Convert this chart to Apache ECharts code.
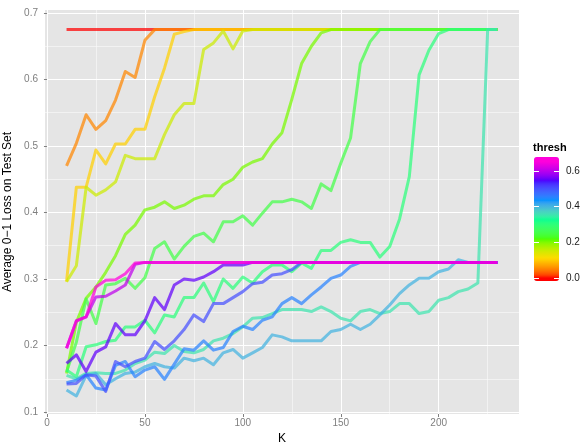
<!DOCTYPE html>
<html><head><meta charset="utf-8">
<script src="https://cdn.jsdelivr.net/npm/echarts@6/dist/echarts.min.js"></script>
<style>html,body{margin:0;padding:0;background:#fff}#c{width:582px;height:443px}</style>
</head><body><div id="c"></div>
<script>
// ---- data ----
const K = [10,15,20,25,30,35,40,45,50,55,60,65,70,75,80,85,90,95,100,105,110,115,120,125,130,135,140,145,150,155,160,165,170,175,180,185,190,195,200,205,210,215,220,225,230];
const thresh = [0,0.05,0.1,0.15,0.2,0.25,0.3,0.35,0.4,0.45,0.5,0.55,0.6,0.65];

const loss_t000 = [0.675,0.675,0.675,0.675,0.675,0.675,0.675,0.675,0.675,0.675,0.675,0.675,0.675,0.675,0.675,0.675,0.675,0.675,0.675,0.675,0.675,0.675,0.675,0.675,0.675,0.675,0.675,0.675,0.675,0.675,0.675,0.675,0.675,0.675,0.675,0.675,0.675,0.675,0.675,0.675,0.675,0.675,0.675,0.675,0.675];
const loss_t005 = [0.470,0.504,0.547,0.525,0.538,0.569,0.612,0.603,0.659,0.675,0.675,0.675,0.675,0.675,0.675,0.675,0.675,0.675,0.675,0.675,0.675,0.675,0.675,0.675,0.675,0.675,0.675,0.675,0.675,0.675,0.675,0.675,0.675,0.675,0.675,0.675,0.675,0.675,0.675,0.675,0.675,0.675,0.675,0.675,0.675];
const loss_t010 = [0.296,0.438,0.438,0.494,0.473,0.503,0.503,0.525,0.525,0.574,0.617,0.668,0.672,0.675,0.675,0.675,0.675,0.675,0.675,0.675,0.675,0.675,0.675,0.675,0.675,0.675,0.675,0.675,0.675,0.675,0.675,0.675,0.675,0.675,0.675,0.675,0.675,0.675,0.675,0.675,0.675,0.675,0.675,0.675,0.675];
const loss_t015 = [0.296,0.320,0.438,0.426,0.434,0.446,0.486,0.481,0.481,0.481,0.517,0.547,0.564,0.564,0.645,0.655,0.673,0.646,0.673,0.675,0.675,0.675,0.675,0.675,0.675,0.675,0.675,0.675,0.675,0.675,0.675,0.675,0.675,0.675,0.675,0.675,0.675,0.675,0.675,0.675,0.675,0.675,0.675,0.675,0.675];
const loss_t020 = [0.158,0.235,0.271,0.288,0.310,0.335,0.367,0.381,0.404,0.408,0.416,0.406,0.411,0.420,0.425,0.425,0.442,0.450,0.468,0.476,0.481,0.503,0.520,0.570,0.624,0.650,0.670,0.675,0.675,0.675,0.675,0.675,0.675,0.675,0.675,0.675,0.675,0.675,0.675,0.675,0.675,0.675,0.675,0.675,0.675];
const loss_t025 = [0.160,0.205,0.270,0.233,0.291,0.293,0.301,0.286,0.302,0.346,0.356,0.330,0.349,0.364,0.369,0.356,0.386,0.386,0.395,0.381,0.399,0.416,0.416,0.420,0.416,0.406,0.443,0.433,0.474,0.512,0.624,0.657,0.675,0.675,0.675,0.675,0.675,0.675,0.675,0.675,0.675,0.675,0.675,0.675,0.675];
const loss_t030 = [0.163,0.153,0.198,0.201,0.206,0.208,0.228,0.228,0.238,0.219,0.246,0.243,0.272,0.272,0.294,0.266,0.300,0.286,0.303,0.294,0.311,0.321,0.321,0.311,0.324,0.316,0.343,0.343,0.355,0.359,0.355,0.355,0.333,0.349,0.390,0.454,0.607,0.644,0.669,0.675,0.675,0.675,0.675,0.675,0.675];
const loss_t035 = [0.155,0.150,0.158,0.159,0.158,0.158,0.163,0.173,0.178,0.190,0.188,0.200,0.191,0.189,0.194,0.207,0.211,0.218,0.228,0.241,0.242,0.248,0.254,0.254,0.254,0.251,0.258,0.251,0.241,0.237,0.251,0.254,0.248,0.251,0.263,0.263,0.248,0.251,0.268,0.272,0.281,0.285,0.294,0.675,0.675];
const loss_t040 = [0.133,0.124,0.155,0.158,0.141,0.150,0.158,0.160,0.168,0.173,0.168,0.166,0.181,0.177,0.181,0.171,0.189,0.194,0.181,0.189,0.197,0.216,0.213,0.207,0.207,0.207,0.207,0.221,0.224,0.232,0.224,0.232,0.246,0.261,0.278,0.291,0.301,0.301,0.311,0.315,0.329,0.325,0.325,0.325,0.325];
const loss_t045 = [0.144,0.148,0.156,0.136,0.133,0.170,0.176,0.153,0.163,0.168,0.149,0.172,0.195,0.193,0.207,0.193,0.197,0.221,0.229,0.224,0.238,0.243,0.263,0.272,0.263,0.276,0.288,0.301,0.306,0.319,0.325,0.325,0.325,0.325,0.325,0.325,0.325,0.325,0.325,0.325,0.325,0.325,0.325,0.325,0.325];
const loss_t050 = [0.142,0.143,0.156,0.154,0.131,0.176,0.168,0.176,0.181,0.206,0.194,0.207,0.224,0.246,0.236,0.263,0.263,0.272,0.281,0.293,0.295,0.306,0.308,0.314,0.325,0.325,0.325,0.325,0.325,0.325,0.325,0.325,0.325,0.325,0.325,0.325,0.325,0.325,0.325,0.325,0.325,0.325,0.325,0.325,0.325];
const loss_t055 = [0.173,0.186,0.161,0.190,0.198,0.233,0.216,0.216,0.237,0.272,0.254,0.291,0.300,0.298,0.303,0.311,0.321,0.321,0.321,0.325,0.325,0.325,0.325,0.325,0.325,0.325,0.325,0.325,0.325,0.325,0.325,0.325,0.325,0.325,0.325,0.325,0.325,0.325,0.325,0.325,0.325,0.325,0.325,0.325,0.325];
const loss_t060 = [0.196,0.237,0.243,0.273,0.274,0.282,0.291,0.322,0.325,0.325,0.325,0.325,0.325,0.325,0.325,0.325,0.325,0.325,0.325,0.325,0.325,0.325,0.325,0.325,0.325,0.325,0.325,0.325,0.325,0.325,0.325,0.325,0.325,0.325,0.325,0.325,0.325,0.325,0.325,0.325,0.325,0.325,0.325,0.325,0.325];
const loss_t065 = [0.196,0.237,0.243,0.288,0.298,0.299,0.308,0.324,0.325,0.325,0.325,0.325,0.325,0.325,0.325,0.325,0.325,0.325,0.325,0.325,0.325,0.325,0.325,0.325,0.325,0.325,0.325,0.325,0.325,0.325,0.325,0.325,0.325,0.325,0.325,0.325,0.325,0.325,0.325,0.325,0.325,0.325,0.325,0.325,0.325];

const lossByThresh = [loss_t000,loss_t005,loss_t010,loss_t015,loss_t020,loss_t025,loss_t030,loss_t035,loss_t040,loss_t045,loss_t050,loss_t055,loss_t060,loss_t065];

const xTicks = [0,50,100,150,200];
const xMinor = [25,75,125,175,225];
const yTicks = [0.1,0.2,0.3,0.4,0.5,0.6,0.7];
const yMinor = [0.15,0.25,0.35,0.45,0.55,0.65];
const legendTicks = [0,0.2,0.4,0.6];

// ---- colour scale: rainbow(7) stops, interpolated in CIE Lab ----
const stops = ['#FF0000','#FFDB00','#49FF00','#00FF92','#0092FF','#4900FF','#FF00DB'];
const tMin = 0, tMax = 0.65;
function hex2rgb(h){return [parseInt(h.substr(1,2),16),parseInt(h.substr(3,2),16),parseInt(h.substr(5,2),16)];}
function toLin(c){c/=255;return c<=0.04045?c/12.92:Math.pow((c+0.055)/1.055,2.4);}
function fromLin(c){const v=c<=0.0031308?12.92*c:1.055*Math.pow(c,1/2.4)-0.055;return Math.max(0,Math.min(255,Math.round(v*255)));}
const Xn=0.95047,Yn=1,Zn=1.08883;
function fLab(t){return t>0.008856?Math.cbrt(t):7.787*t+16/116;}
function fInv(t){return t>0.206893?t*t*t:(t-16/116)/7.787;}
function rgb2lab(rgb){
  const [r,g,b]=rgb.map(toLin);
  const X=(0.4124*r+0.3576*g+0.1805*b)/Xn, Y=(0.2126*r+0.7152*g+0.0722*b)/Yn, Z=(0.0193*r+0.1192*g+0.9505*b)/Zn;
  const fx=fLab(X),fy=fLab(Y),fz=fLab(Z);
  return [116*fy-16,500*(fx-fy),200*(fy-fz)];
}
function lab2rgb(lab){
  const fy=(lab[0]+16)/116, fx=fy+lab[1]/500, fz=fy-lab[2]/200;
  const X=fInv(fx)*Xn, Y=fInv(fy)*Yn, Z=fInv(fz)*Zn;
  const r=3.2406*X-1.5372*Y-0.4986*Z, g=-0.9689*X+1.8758*Y+0.0415*Z, b=0.0557*X-0.2040*Y+1.0570*Z;
  return [fromLin(r),fromLin(g),fromLin(b)];
}
const stopsLab = stops.map(s=>rgb2lab(hex2rgb(s)));
function colorAt(v){
  let t = (v - tMin)/(tMax - tMin); t = Math.max(0, Math.min(1, t));
  const p = t*(stops.length-1); const i = Math.min(stops.length-2, Math.floor(p)); const f = p - i;
  const a = stopsLab[i], b = stopsLab[i+1];
  const c = lab2rgb(a.map((x,j)=>x + (b[j]-x)*f));
  return 'rgb('+c.join(',')+')';
}

// colourbar geometry
const barLeft = 534, barTop = 157, barW = 25, barH = 124;
const vmMin = -0.0196, vmMax = 0.6757;
const barColors = [];
for (let i = 0; i <= 80; i++) barColors.push(colorAt(vmMin + (vmMax - vmMin)*i/80));
function barY(v){ return barTop + (vmMax - v)/(vmMax - vmMin)*barH; }

const font = 'Liberation Sans, Arial, sans-serif';

const series = lossByThresh.map((arr, i) => ({
  type: 'line',
  name: String(thresh[i]),
  data: K.map((k, j) => [k, arr[j]]),
  showSymbol: false,
  symbol: 'none',
  lineStyle: { width: 3, color: colorAt(thresh[i]), opacity: 0.72, join: 'round', cap: 'butt' },
  itemStyle: { color: colorAt(thresh[i]) },
  emphasis: { disabled: true },
  silent: true,
  z: 2
}));
series.push({ type: 'scatter', data: [], silent: true });
const dummyIdx = series.length - 1;

const graphic = [
  { type: 'text', left: 533, top: 142, style: { text: 'thresh', font: 'bold 11px ' + font, fill: '#000' } }
];
legendTicks.forEach(v => {
  const y = Math.round(barY(v)) + 0.5;
  graphic.push({ type: 'line', shape: { x1: barLeft, y1: y, x2: barLeft + 5, y2: y }, style: { stroke: '#fff', lineWidth: 1 }, z: 100 });
  graphic.push({ type: 'line', shape: { x1: barLeft + barW - 5, y1: y, x2: barLeft + barW, y2: y }, style: { stroke: '#fff', lineWidth: 1 }, z: 100 });
  graphic.push({ type: 'text', x: 566, y: y, style: { text: v.toFixed(1), font: '10px ' + font, fill: '#1a1a1a', textVerticalAlign: 'middle', verticalAlign: 'middle' }, z: 100 });
});

const chart = echarts.init(document.getElementById('c'), null, { renderer: 'canvas' });
chart.setOption({
  animation: false,
  backgroundColor: '#fff',
  grid: { left: 45, right: 63, top: 10, bottom: 29, show: true, backgroundColor: '#E5E5E5', borderWidth: 0, containLabel: false, outerBoundsMode: 'none' },
  xAxis: [
    { type: 'value', min: -1, max: 241, z: 1,
      name: 'K', nameLocation: 'middle', nameGap: 16, nameTextStyle: { color: '#000', fontSize: 12, fontFamily: font },
      axisLine: { show: false },
      axisTick: { show: true, length: 3, lineStyle: { color: '#7F7F7F' }, customValues: xTicks },
      axisLabel: { show: true, margin: 4, color: '#7F7F7F', fontSize: 10, fontFamily: font, customValues: xTicks, formatter: v => String(v) },
      splitLine: { show: true, lineStyle: { color: '#FFFFFF', width: 1 } } },
    { type: 'value', min: -1, max: 241, z: 0, position: 'bottom',
      axisLine: { show: false }, axisLabel: { show: false },
      axisTick: { show: false, customValues: xMinor },
      splitLine: { show: true, lineStyle: { color: '#FAFAFA', width: 0.6 } } }
  ],
  yAxis: [
    { type: 'value', min: 0.097, max: 0.7045, z: 1,
      name: 'Average 0\u22121 Loss on Test Set', nameLocation: 'middle', nameGap: 22, nameRotate: 90,
      nameTextStyle: { color: '#000', fontSize: 12, fontFamily: font },
      axisLine: { show: false },
      axisTick: { show: true, length: 3, lineStyle: { color: '#7F7F7F' }, customValues: yTicks },
      axisLabel: { show: true, margin: 7, color: '#7F7F7F', fontSize: 10, fontFamily: font, customValues: yTicks, formatter: v => v.toFixed(1) },
      splitLine: { show: true, lineStyle: { color: '#FFFFFF', width: 1 } } },
    { type: 'value', min: 0.097, max: 0.7045, z: 0, position: 'left',
      axisLine: { show: false }, axisLabel: { show: false },
      axisTick: { show: false, customValues: yMinor },
      splitLine: { show: true, lineStyle: { color: '#FAFAFA', width: 0.6 } } }
  ],
  visualMap: [{
    type: 'continuous', show: true, min: vmMin, max: vmMax, seriesIndex: [dummyIdx], dimension: 1,
    left: barLeft, top: barTop, itemWidth: barW, itemHeight: barH, padding: 0,
    calculable: false, realtime: false, hoverLink: false, text: null, showLabel: false,
    inRange: { color: barColors }
  }],
  graphic: graphic,
  series: series
});
</script></body></html>
